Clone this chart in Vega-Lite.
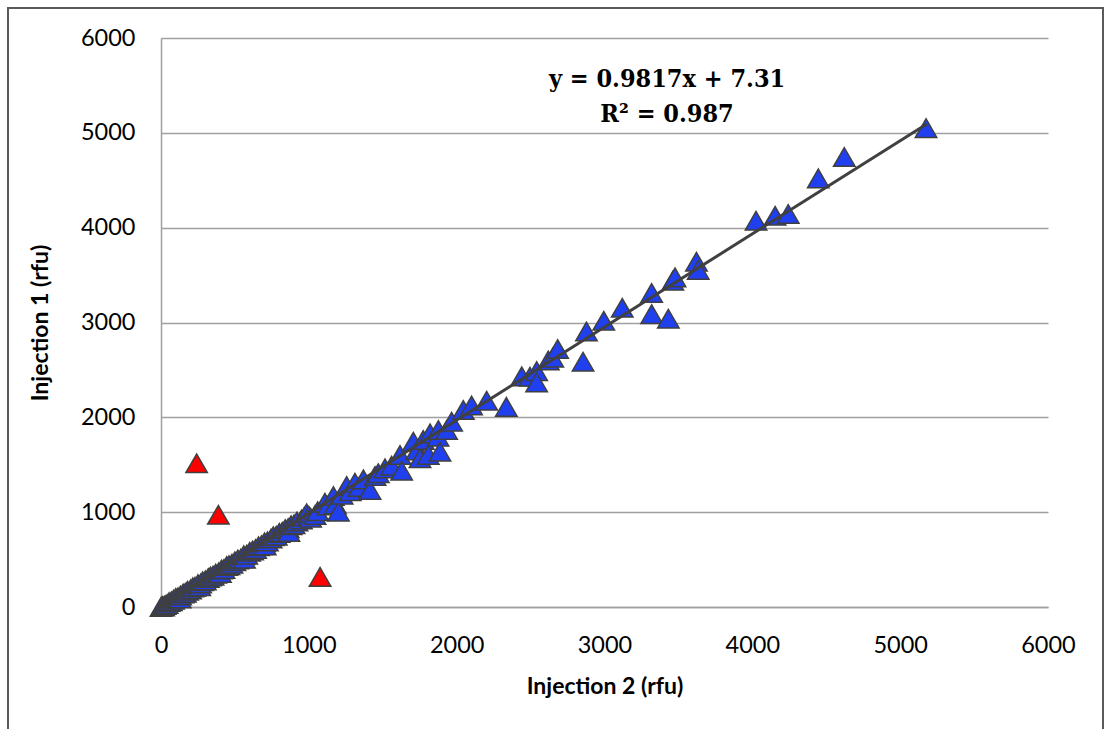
{
  "$schema": "https://vega.github.io/schema/vega-lite/v6.json",
  "autosize": {"type": "none"},
  "width": 887,
  "height": 569,
  "padding": {"left": 161, "top": 38, "right": 56, "bottom": 122},
  "background": "white",
  "config": {
    "view": {"stroke": null},
    "font": "Lato"
  },
  "datasets": {
    "pts": [
      {"inj2": 0, "inj1": 0, "grp": "ok"},
      {"inj2": 8, "inj1": 12, "grp": "ok"},
      {"inj2": 18, "inj1": 5, "grp": "ok"},
      {"inj2": 28, "inj1": 22, "grp": "ok"},
      {"inj2": 42, "inj1": 32, "grp": "ok"},
      {"inj2": 55, "inj1": 52, "grp": "ok"},
      {"inj2": 70, "inj1": 60, "grp": "ok"},
      {"inj2": 85, "inj1": 78, "grp": "ok"},
      {"inj2": 100, "inj1": 96, "grp": "ok"},
      {"inj2": 115, "inj1": 102, "grp": "ok"},
      {"inj2": 130, "inj1": 90, "grp": "ok"},
      {"inj2": 132, "inj1": 122, "grp": "ok"},
      {"inj2": 150, "inj1": 142, "grp": "ok"},
      {"inj2": 165, "inj1": 150, "grp": "ok"},
      {"inj2": 180, "inj1": 172, "grp": "ok"},
      {"inj2": 200, "inj1": 186, "grp": "ok"},
      {"inj2": 215, "inj1": 207, "grp": "ok"},
      {"inj2": 230, "inj1": 214, "grp": "ok"},
      {"inj2": 250, "inj1": 242, "grp": "ok"},
      {"inj2": 262, "inj1": 220, "grp": "ok"},
      {"inj2": 268, "inj1": 247, "grp": "ok"},
      {"inj2": 282, "inj1": 272, "grp": "ok"},
      {"inj2": 300, "inj1": 281, "grp": "ok"},
      {"inj2": 320, "inj1": 306, "grp": "ok"},
      {"inj2": 335, "inj1": 322, "grp": "ok"},
      {"inj2": 352, "inj1": 331, "grp": "ok"},
      {"inj2": 370, "inj1": 352, "grp": "ok"},
      {"inj2": 390, "inj1": 366, "grp": "ok"},
      {"inj2": 402, "inj1": 358, "grp": "ok"},
      {"inj2": 410, "inj1": 396, "grp": "ok"},
      {"inj2": 426, "inj1": 401, "grp": "ok"},
      {"inj2": 445, "inj1": 432, "grp": "ok"},
      {"inj2": 460, "inj1": 441, "grp": "ok"},
      {"inj2": 480, "inj1": 456, "grp": "ok"},
      {"inj2": 500, "inj1": 482, "grp": "ok"},
      {"inj2": 520, "inj1": 501, "grp": "ok"},
      {"inj2": 540, "inj1": 511, "grp": "ok"},
      {"inj2": 560, "inj1": 546, "grp": "ok"},
      {"inj2": 565, "inj1": 508, "grp": "ok"},
      {"inj2": 580, "inj1": 552, "grp": "ok"},
      {"inj2": 600, "inj1": 582, "grp": "ok"},
      {"inj2": 620, "inj1": 596, "grp": "ok"},
      {"inj2": 640, "inj1": 612, "grp": "ok"},
      {"inj2": 660, "inj1": 641, "grp": "ok"},
      {"inj2": 680, "inj1": 652, "grp": "ok"},
      {"inj2": 700, "inj1": 682, "grp": "ok"},
      {"inj2": 705, "inj1": 648, "grp": "ok"},
      {"inj2": 720, "inj1": 692, "grp": "ok"},
      {"inj2": 745, "inj1": 722, "grp": "ok"},
      {"inj2": 760, "inj1": 746, "grp": "ok"},
      {"inj2": 780, "inj1": 752, "grp": "ok"},
      {"inj2": 800, "inj1": 782, "grp": "ok"},
      {"inj2": 820, "inj1": 792, "grp": "ok"},
      {"inj2": 840, "inj1": 822, "grp": "ok"},
      {"inj2": 860, "inj1": 832, "grp": "ok"},
      {"inj2": 865, "inj1": 790, "grp": "ok"},
      {"inj2": 880, "inj1": 862, "grp": "ok"},
      {"inj2": 900, "inj1": 872, "grp": "ok"},
      {"inj2": 920, "inj1": 902, "grp": "ok"},
      {"inj2": 950, "inj1": 922, "grp": "ok"},
      {"inj2": 970, "inj1": 952, "grp": "ok"},
      {"inj2": 985, "inj1": 988, "grp": "ok"},
      {"inj2": 1000, "inj1": 962, "grp": "ok"},
      {"inj2": 1012, "inj1": 942, "grp": "ok"},
      {"inj2": 1042, "inj1": 970, "grp": "ok"},
      {"inj2": 1060, "inj1": 1010, "grp": "ok"},
      {"inj2": 1109, "inj1": 1100, "grp": "ok"},
      {"inj2": 1130, "inj1": 1070, "grp": "ok"},
      {"inj2": 1166, "inj1": 1170, "grp": "ok"},
      {"inj2": 1180, "inj1": 1082, "grp": "ok"},
      {"inj2": 1200, "inj1": 1005, "grp": "ok"},
      {"inj2": 1225, "inj1": 1185, "grp": "ok"},
      {"inj2": 1256, "inj1": 1276, "grp": "ok"},
      {"inj2": 1280, "inj1": 1220, "grp": "ok"},
      {"inj2": 1312, "inj1": 1311, "grp": "ok"},
      {"inj2": 1340, "inj1": 1265, "grp": "ok"},
      {"inj2": 1369, "inj1": 1346, "grp": "ok"},
      {"inj2": 1414, "inj1": 1234, "grp": "ok"},
      {"inj2": 1448, "inj1": 1381, "grp": "ok"},
      {"inj2": 1470, "inj1": 1410, "grp": "ok"},
      {"inj2": 1515, "inj1": 1462, "grp": "ok"},
      {"inj2": 1560, "inj1": 1490, "grp": "ok"},
      {"inj2": 1617, "inj1": 1603, "grp": "ok"},
      {"inj2": 1628, "inj1": 1437, "grp": "ok"},
      {"inj2": 1707, "inj1": 1743, "grp": "ok"},
      {"inj2": 1730, "inj1": 1650, "grp": "ok"},
      {"inj2": 1752, "inj1": 1568, "grp": "ok"},
      {"inj2": 1774, "inj1": 1761, "grp": "ok"},
      {"inj2": 1808, "inj1": 1603, "grp": "ok"},
      {"inj2": 1820, "inj1": 1831, "grp": "ok"},
      {"inj2": 1874, "inj1": 1796, "grp": "ok"},
      {"inj2": 1876, "inj1": 1866, "grp": "ok"},
      {"inj2": 1887, "inj1": 1638, "grp": "ok"},
      {"inj2": 1932, "inj1": 1866, "grp": "ok"},
      {"inj2": 1966, "inj1": 1954, "grp": "ok"},
      {"inj2": 2045, "inj1": 2077, "grp": "ok"},
      {"inj2": 2101, "inj1": 2125, "grp": "ok"},
      {"inj2": 2203, "inj1": 2175, "grp": "ok"},
      {"inj2": 2336, "inj1": 2110, "grp": "ok"},
      {"inj2": 2440, "inj1": 2432, "grp": "ok"},
      {"inj2": 2496, "inj1": 2428, "grp": "ok"},
      {"inj2": 2541, "inj1": 2487, "grp": "ok"},
      {"inj2": 2541, "inj1": 2368, "grp": "ok"},
      {"inj2": 2620, "inj1": 2600, "grp": "ok"},
      {"inj2": 2650, "inj1": 2630, "grp": "ok"},
      {"inj2": 2683, "inj1": 2720, "grp": "ok"},
      {"inj2": 2855, "inj1": 2587, "grp": "ok"},
      {"inj2": 2878, "inj1": 2905, "grp": "ok"},
      {"inj2": 2995, "inj1": 3018, "grp": "ok"},
      {"inj2": 3120, "inj1": 3155, "grp": "ok"},
      {"inj2": 3319, "inj1": 3312, "grp": "ok"},
      {"inj2": 3319, "inj1": 3088, "grp": "ok"},
      {"inj2": 3432, "inj1": 3040, "grp": "ok"},
      {"inj2": 3462, "inj1": 3440, "grp": "ok"},
      {"inj2": 3477, "inj1": 3476, "grp": "ok"},
      {"inj2": 3622, "inj1": 3641, "grp": "ok"},
      {"inj2": 3634, "inj1": 3554, "grp": "ok"},
      {"inj2": 4025, "inj1": 4073, "grp": "ok"},
      {"inj2": 4154, "inj1": 4125, "grp": "ok"},
      {"inj2": 4243, "inj1": 4144, "grp": "ok"},
      {"inj2": 4446, "inj1": 4520, "grp": "ok"},
      {"inj2": 4622, "inj1": 4745, "grp": "ok"},
      {"inj2": 5175, "inj1": 5050, "grp": "ok"},
      {"inj2": 241, "inj1": 1515, "grp": "outlier"},
      {"inj2": 388, "inj1": 972, "grp": "outlier"},
      {"inj2": 1076, "inj1": 318, "grp": "outlier"}
    ],
    "trend": [
      {"inj2": 0, "inj1": 7},
      {"inj2": 5180, "inj1": 5093}
    ],
    "label": [
      {"inj2": 3423, "inj1": 5487, "txt": ["y = 0.9817x + 7.31", "R² = 0.987"]}
    ],
    "frame": [
      {"x1": -1035, "x2": 6372, "y1": 6316, "y2": -1400}
    ]
  },
  "layer": [
    {
      "data": {"name": "frame"},
      "mark": {"type": "rect", "fill": null, "stroke": "#5a5a5a", "strokeWidth": 2, "clip": false},
      "encoding": {
        "x": {"field": "x1", "type": "quantitative"},
        "x2": {"field": "x2"},
        "y": {"field": "y1", "type": "quantitative"},
        "y2": {"field": "y2"}
      }
    },
    {
      "data": {"name": "pts"},
      "mark": {"type": "point", "shape": "triangle-up", "filled": true, "size": 460, "stroke": "#3f3f3f", "strokeWidth": 1.5, "opacity": 1, "fillOpacity": 1},
      "encoding": {
        "x": {
          "field": "inj2", "type": "quantitative",
          "scale": {"domain": [0, 6000], "nice": false, "zero": false},
          "axis": {
            "title": "Injection 2 (rfu)",
            "values": [0, 1000, 2000, 3000, 4000, 5000, 6000],
            "format": "d",
            "grid": false, "ticks": false, "domain": true,
            "domainColor": "#a0a0a0", "domainWidth": 1.5,
            "labelFont": "Lato", "labelFontSize": 23.5, "labelColor": "#000000",
            "labelPadding": 26, "labelFlush": false,
            "titleFont": "Lato", "titleFontSize": 23, "titleFontWeight": "bold", "titleColor": "#000000",
            "titlePadding": 19
          }
        },
        "y": {
          "field": "inj1", "type": "quantitative",
          "scale": {"domain": [0, 6000], "nice": false, "zero": false},
          "axis": {
            "title": "Injection 1 (rfu)",
            "values": [0, 1000, 2000, 3000, 4000, 5000, 6000],
            "format": "d",
            "grid": true, "gridColor": "#a0a0a0", "gridWidth": 1.5,
            "ticks": false, "domain": true,
            "domainColor": "#a0a0a0", "domainWidth": 1.5,
            "labelFont": "Lato", "labelFontSize": 23.5, "labelColor": "#000000",
            "labelPadding": 26, "labelFlush": false,
            "titleFont": "Lato", "titleFontSize": 23, "titleFontWeight": "bold", "titleColor": "#000000",
            "titlePadding": 28
          }
        },
        "fill": {
          "field": "grp", "type": "nominal",
          "scale": {"domain": ["ok", "outlier"], "range": ["#2040F0", "#FF0000"]},
          "legend": null
        }
      }
    },
    {
      "data": {"name": "trend"},
      "mark": {"type": "line", "color": "#404040", "strokeWidth": 3},
      "encoding": {
        "x": {"field": "inj2", "type": "quantitative"},
        "y": {"field": "inj1", "type": "quantitative"}
      }
    },
    {
      "data": {"name": "label"},
      "mark": {"type": "text", "font": "DejaVu Serif Condensed, DejaVu Serif", "fontWeight": "bold", "fontSize": 25, "align": "center", "baseline": "alphabetic", "lineHeight": 35, "color": "#000000"},
      "encoding": {
        "x": {"field": "inj2", "type": "quantitative"},
        "y": {"field": "inj1", "type": "quantitative"},
        "text": {"field": "txt"}
      }
    }
  ]
}
